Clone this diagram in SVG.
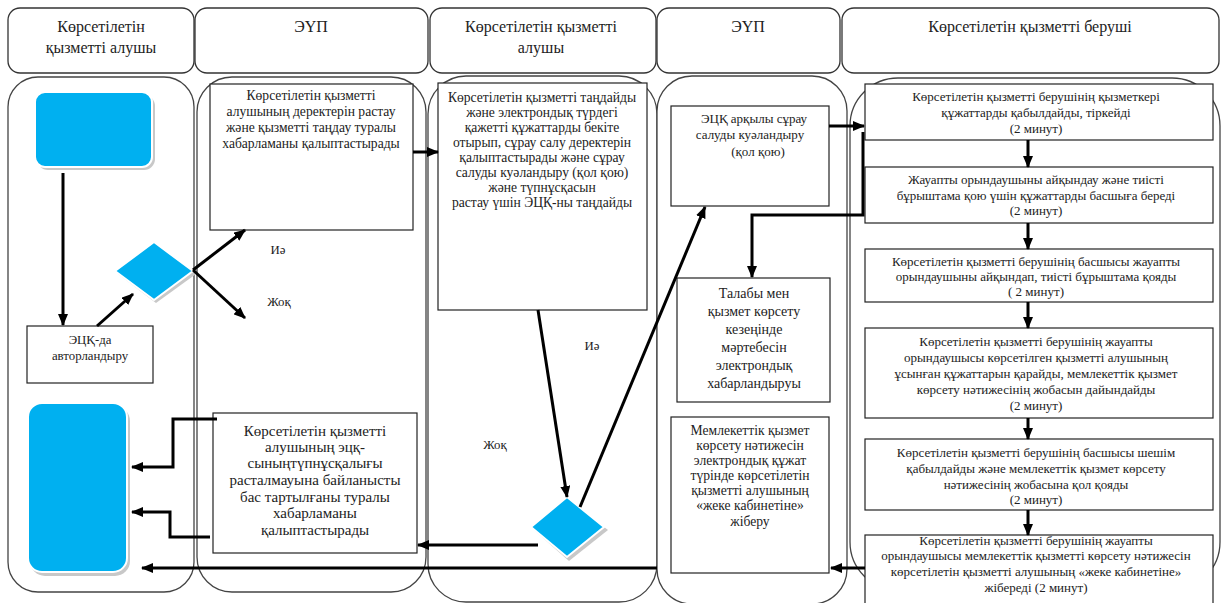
<svg xmlns="http://www.w3.org/2000/svg" width="1221" height="603" viewBox="0 0 1221 603" font-family="'Liberation Serif', 'Times New Roman', serif">
<defs>
<marker id="ah" markerUnits="userSpaceOnUse" markerWidth="12" markerHeight="10" refX="11" refY="5" orient="auto"><path d="M0,0 L12,5 L0,10 z" fill="#000"/></marker>
<style>
.hdr{fill:#fff;stroke:#333;stroke-width:1.3}
.lane{fill:#fff;stroke:#444;stroke-width:1.3}
.box{fill:#fff;stroke:#222;stroke-width:1.2}
.blue{fill:#00b0f0;stroke:#fff;stroke-width:2}
.shadow{fill:#c8c8c8}
text{font-family:'Liberation Serif','Times New Roman',serif;fill:#222;text-anchor:middle}
.h{font-size:16px}
.s{font-size:12.8px}
.r{font-size:13px}
.m{font-size:13.6px}
.e{font-size:13.6px}
.n{font-size:14px}
.l{font-size:15px}
.ca{fill:none;stroke:#000;stroke-width:3;marker-end:url(#ah)}
</style>
</defs>
<rect width="1221" height="603" fill="#fff"/>
<g id="headers">
<rect class="hdr" x="8" y="8" width="186" height="65" rx="12"/>
<rect class="hdr" x="195" y="8" width="233" height="65" rx="12"/>
<rect class="hdr" x="430" y="8" width="226" height="65" rx="12"/>
<rect class="hdr" x="657" y="8" width="183" height="65" rx="12"/>
<rect class="hdr" x="842" y="8" width="377" height="65" rx="12"/>
<text class="h" x="101" y="32">Көрсетілетін</text>
<text class="h" x="101" y="53">қызметті алушы</text>
<text class="h" x="311" y="32">ЭҮП</text>
<text class="h" x="541" y="32">Көрсетілетін қызметті</text>
<text class="h" x="541" y="53">алушы</text>
<text class="h" x="748" y="32">ЭҮП</text>
<text class="h" x="1030" y="32">Көрсетілетін қызметті беруші</text>
</g>
<g id="lanes">
<rect class="lane" x="8" y="77" width="186" height="515" rx="30"/>
<rect class="lane" x="197" y="77" width="229" height="515" rx="35"/>
<rect class="lane" x="428" y="76" width="229" height="526" rx="38"/>
<rect class="lane" x="657" y="76" width="190" height="528" rx="35"/>
<rect class="lane" x="850" y="78" width="370" height="512" rx="48"/>
</g>
<g id="start">
<rect class="shadow" x="37" y="95" width="118" height="75" rx="11"/>
<rect class="blue" x="35" y="92" width="117" height="75" rx="10"/>
</g>
<g id="auth">
<rect class="box" x="27" y="326" width="126" height="57"/>
<text class="s" x="90" y="344">ЭЦҚ-да</text>
<text class="s" x="90" y="360">авторландыру</text>
</g>
<g id="decision1">
<polygon class="shadow" points="156,245 196,274 156,303 118,274"/>
<polygon class="blue" points="154,242 193,271 154,300 115,271"/>
</g>
<g id="labels1">
<text class="s" x="278" y="254">Иә</text>
<text class="s" x="279" y="306">Жоқ</text>
</g>
<g id="confirm">
<rect class="box" x="210" y="84" width="203" height="146"/>
<text class="m" x="311" y="100">Көрсетілетін қызметті</text>
<text class="m" x="311" y="116">алушының деректерін растау</text>
<text class="m" x="311" y="132">және қызметті таңдау туралы</text>
<text class="m" x="311" y="148">хабарламаны қалыптастырады</text>
</g>
<g id="reject">
<rect class="box" x="213" y="413" width="204" height="140"/>
<text class="l" x="315" y="436">Көрсетілетін қызметті</text>
<text class="l" x="315" y="452">алушының эцқ-</text>
<text class="l" x="315" y="468">сыныңтүпнұсқалығы</text>
<text class="l" x="315" y="485">расталмауына байланысты</text>
<text class="l" x="315" y="502">бас тартылғаны туралы</text>
<text class="l" x="315" y="518">хабарламаны</text>
<text class="l" x="315" y="535">қалыптастырады</text>
</g>
<g id="end">
<rect class="shadow" x="30" y="406" width="100" height="170" rx="15"/>
<rect class="blue" x="28" y="403" width="99" height="169" rx="14"/>
</g>
<g id="select">
<rect class="box" x="438" y="83" width="209" height="227"/>
<text class="e" x="542" y="102">Көрсетілетін қызметті таңдайды</text>
<text class="e" x="542" y="117">және электрондық түрдегі</text>
<text class="e" x="542" y="132">қажетті құжаттарды  бекіте</text>
<text class="e" x="542" y="147">отырып, сұрау салу деректерін</text>
<text class="e" x="542" y="162">қалыптастырады және сұрау</text>
<text class="e" x="542" y="177">салуды куәландыру (қол қою)</text>
<text class="e" x="542" y="192">және түпнұсқасын</text>
<text class="e" x="542" y="207">растау үшін ЭЦҚ-ны таңдайды</text>
</g>
<g id="decision2">
<polygon class="shadow" points="569,500 608,530 569,561 534,530"/>
<polygon class="blue" points="567,497 604,527 567,557 531,527"/>
</g>
<g id="labels2">
<text class="s" x="592" y="350">Иә</text>
<text class="s" x="495" y="449">Жоқ</text>
</g>
<g id="sign">
<rect class="box" x="671" y="106" width="158" height="100"/>
<text class="r" x="754" y="123">ЭЦҚ арқылы сұрау</text>
<text class="r" x="750" y="139">салуды куәландыру</text>
<text class="r" x="758" y="156">(қол қою)</text>
</g>
<g id="notify">
<rect class="box" x="677" y="278" width="153" height="124"/>
<text class="n" x="754" y="298">Талабы мен</text>
<text class="n" x="754" y="316">қызмет көрсету</text>
<text class="n" x="754" y="334">кезеңінде</text>
<text class="n" x="754" y="352">мәртебесін</text>
<text class="n" x="754" y="370">электрондық</text>
<text class="n" x="754" y="388">хабарландыруы</text>
</g>
<g id="send">
<rect class="box" x="671" y="417" width="158" height="156"/>
<text class="e" x="750" y="435">Мемлекеттік қызмет</text>
<text class="e" x="750" y="450">көрсету нәтижесін</text>
<text class="e" x="750" y="465">электрондық құжат</text>
<text class="e" x="750" y="480">түрінде көрсетілетін</text>
<text class="e" x="750" y="495">қызметті алушының</text>
<text class="e" x="750" y="510">«жеке кабинетіне»</text>
<text class="e" x="750" y="526">жіберу</text>
</g>
<g id="p1">
<rect class="box" x="865" y="84" width="348" height="56"/>
<text class="r" x="1036" y="101">Көрсетілетін қызметті берушінің қызметкері</text>
<text class="r" x="1036" y="117">құжаттарды қабылдайды, тіркейді</text>
<text class="r" x="1036" y="133">(2 минут)</text>
</g>
<g id="p2">
<rect class="box" x="865" y="167" width="348" height="56"/>
<text class="r" x="1036" y="184">Жауапты орындаушыны айқындау және тиісті</text>
<text class="r" x="1036" y="200">бұрыштама қою үшін құжаттарды басшыға береді</text>
<text class="r" x="1036" y="215">(2 минут)</text>
</g>
<g id="p3">
<rect class="box" x="865" y="249" width="348" height="53"/>
<text class="r" x="1036" y="266">Көрсетілетін қызметті берушінің басшысы жауапты</text>
<text class="r" x="1036" y="281">орындаушыны айқындап, тиісті бұрыштама қояды</text>
<text class="r" x="1036" y="296">( 2 минут)</text>
</g>
<g id="p4">
<rect class="box" x="865" y="328" width="348" height="90"/>
<text class="r" x="1036" y="346">Көрсетілетін қызметті берушінің жауапты</text>
<text class="r" x="1036" y="362">орындаушысы көрсетілген қызметті алушының</text>
<text class="r" x="1036" y="378">ұсынған құжаттарын қарайды, мемлекеттік қызмет</text>
<text class="r" x="1036" y="394">көрсету нәтижесінің жобасын дайындайды</text>
<text class="r" x="1036" y="410">(2 минут)</text>
</g>
<g id="p5">
<rect class="box" x="865" y="439" width="348" height="71"/>
<text class="r" x="1036" y="457">Көрсетілетін қызметті берушінің басшысы шешім</text>
<text class="r" x="1036" y="473">қабылдайды және мемлекеттік қызмет көрсету</text>
<text class="r" x="1036" y="489">нәтижесінің жобасына қол қояды</text>
<text class="r" x="1036" y="504">(2 минут)</text>
</g>
<g id="p6">
<rect class="box" x="865" y="535" width="348" height="75"/>
<text class="r" x="1036" y="545">Көрсетілетін қызметті берушінің жауапты</text>
<text class="r" x="1036" y="560">орындаушысы мемлекеттік қызметті көрсету нәтижесін</text>
<text class="r" x="1036" y="576">көрсетілетін қызметті алушының «жеке кабинетіне»</text>
<text class="r" x="1036" y="592">жібереді (2 минут)</text>
</g>
<g id="connectors">
<path class="ca" d="M63,173 V325"/>
<path class="ca" d="M97,326 L133,294"/>
<path class="ca" d="M193,270 L245,230"/>
<path class="ca" d="M193,270 L245,318"/>
<path class="ca" d="M413,152 H438"/>
<path class="ca" d="M538,310 L567,497"/>
<path class="ca" d="M580,507 L705,207"/>
<path class="ca" d="M829,126 H864"/>
<path class="ca" d="M863,132 V215 H752 V277"/>
<path class="ca" d="M1028,140 V167"/>
<path class="ca" d="M1028,223 V249"/>
<path class="ca" d="M1028,302 V328"/>
<path class="ca" d="M1028,418 V439"/>
<path class="ca" d="M1028,510 V535"/>
<path class="ca" d="M217,419 H173 V467 H132"/>
<path class="ca" d="M210,537 H170 V512 H132"/>
<path class="ca" d="M538,545 H418"/>
<path class="ca" d="M865,568 H831"/>
<path class="ca" d="M657,568 H142"/>
</g>
</svg>
